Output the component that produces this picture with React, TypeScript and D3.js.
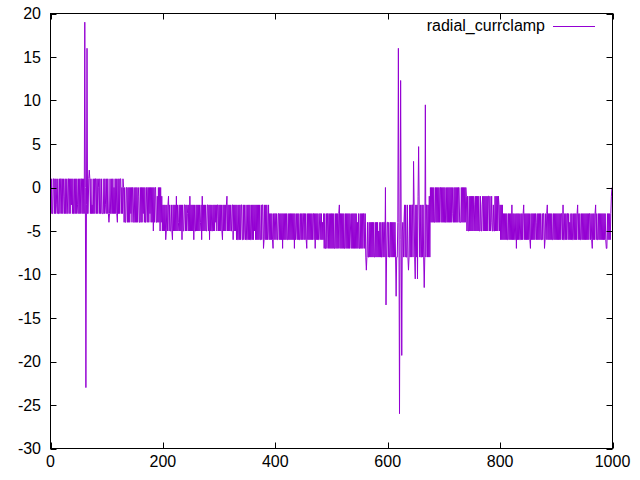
import React from "react";
import * as d3 from "d3";

// Each digit d encodes a sample value of (1 - d); 50 samples per chunk, x = sample index.
const chunks: string[] = [
  "04044004040340440400404024040440040403040440404034",
  "04040040404040404404040434040400404104044044404034",
  "04045404404041404045040400414015155115151514151155",
  "15151521551515141515511515141515161511552515161526",
  "36363763632636636736363626365363637366336363463626",
  "36363736636363636537263636366336373636636363536336",
  "36363673636363263636366337363637377373733773736737",
  "73737377373736373737373773733873737376374747478474",
  "47477447474748474747477474747474748476474747747474",
  "47474784747474747447484747477447475748488484484848",
  "48484884848484384848484884848484846848484848485848",
  "84848484484959599595959595995959596959599595599595",
  "59599595959595959959595959659539399393939393399393",
  "39392939399393929393393929151515155151515151151515",
  "15155151515151514515151515115551515151512626626262",
  "62623626262626626632626262626226265266366262626236",
  "37373747474747747474737474774847474774747437474747",
  "47478474747474574747474774744874743747474747747474",
  "74747474744737747474474757474774747474374747747474",
  "74747474744747847474374774747474747474788474747421",
];

// Spike samples that fall outside the banded noise: [x, value]
const spikes: [number, number][] = [
  [61, 19], [62, 0], [63, -23], [64, -2], [65, 16], [69, 2],
  [562, -9.5], [596, 0], [597, -13.5],
  [615, -12.5], [619, 16], [620, -4], [621, -26], [622, -6], [623, 12.3],
  [624, -5], [625, -19.3], [637, -9.5], [646, 3], [649, -10.5],
  [653, -10.5], [655, 4.7], [665, -11.5], [667, 9.5],
];

const xTicks = [0, 200, 400, 600, 800, 1000];
const yTicks = [-30, -25, -20, -15, -10, -5, 0, 5, 10, 15, 20];
const seriesName = "radial_currclamp";

const values: number[] = chunks.map((c) => c.slice(0, 50)).join("").split("").map((c) => 1 - Number(c));
const spikeMap = new Map(spikes);
const data: [number, number][] = values.map((v, i) => [i, spikeMap.has(i) ? (spikeMap.get(i) as number) : v]);

const W = 640;
const H = 480;
const L = 50.5;
const R = 612.5;
const T = 13.5;
const B = 448.5;
const COLOR = "#9400d3";
const FONT = "'Liberation Sans', Arial, sans-serif";

export default function App() {
  const x = d3.scaleLinear().domain([0, 1000]).range([L, R]);
  const y = d3.scaleLinear().domain([-30, 20]).range([B, T]);
  const line = d3
    .line<[number, number]>()
    .x((d) => x(d[0]))
    .y((d) => y(d[1]));
  const tick = 6;
  return (
    <svg
      width={W}
      height={H}
      style={{ position: "absolute", left: 0, top: 0, background: "#fff" }}
      fontFamily={FONT}
      fontSize={16}
    >
      <rect x={0} y={0} width={W} height={H} fill="#fff" />
      <path d={line(data) || ""} fill="none" stroke={COLOR} strokeWidth={1} />
      {yTicks.map((t) => (
        <g key={"y" + t}>
          <line x1={L} x2={L + tick} y1={Math.round(y(t)) + 0.5} y2={Math.round(y(t)) + 0.5} stroke="#000" />
          <line x1={R} x2={R - tick} y1={Math.round(y(t)) + 0.5} y2={Math.round(y(t)) + 0.5} stroke="#000" />
          <text x={41} y={y(t)} dy="0.36em" textAnchor="end" fill="#000">
            {t}
          </text>
        </g>
      ))}
      {xTicks.map((t) => (
        <g key={"x" + t}>
          <line x1={Math.round(x(t)) + 0.5} x2={Math.round(x(t)) + 0.5} y1={B} y2={B - tick} stroke="#000" />
          <line x1={Math.round(x(t)) + 0.5} x2={Math.round(x(t)) + 0.5} y1={T} y2={T + tick} stroke="#000" />
          <text x={x(t)} y={467} textAnchor="middle" fill="#000">
            {t}
          </text>
        </g>
      ))}
      <rect x={L} y={T} width={R - L} height={B - T} fill="none" stroke="#000" strokeWidth={1} />
      <text x={545} y={31} textAnchor="end" fill="#000">
        {seriesName}
      </text>
      <line x1={553} x2={595} y1={26.5} y2={26.5} stroke={COLOR} strokeWidth={1} />
    </svg>
  );
}
